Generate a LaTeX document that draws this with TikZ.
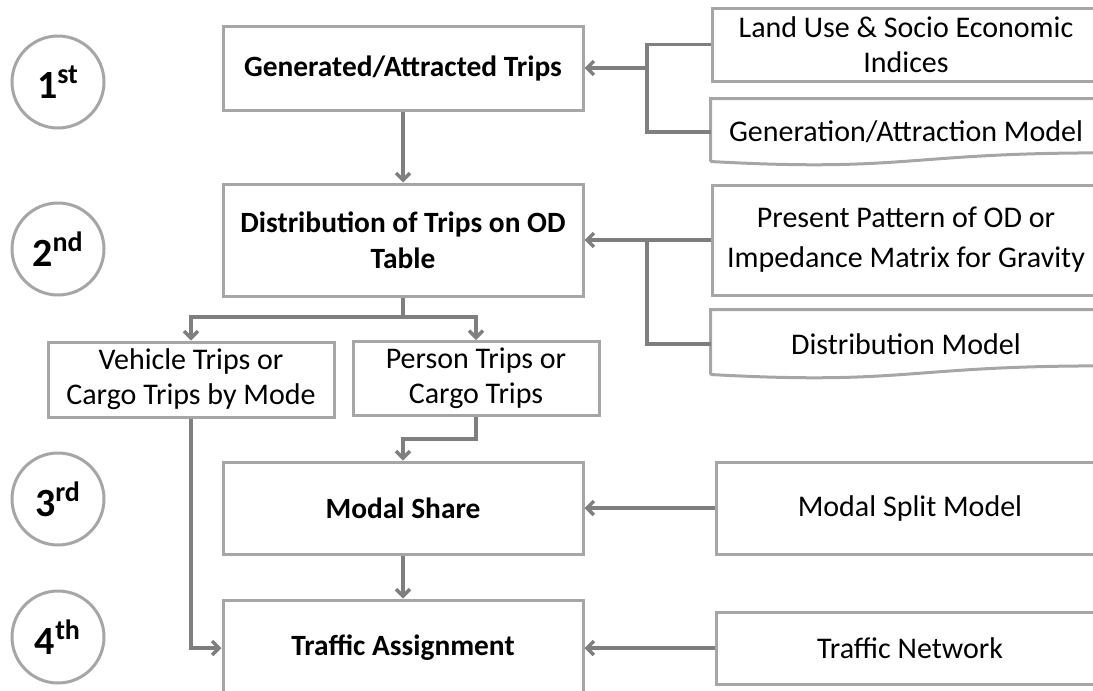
\documentclass[tikz,border=0pt]{standalone}
\usepackage{fontspec}
\setmainfont{Carlito}
\usetikzlibrary{arrows.meta}
\definecolor{boxgray}{HTML}{A6A6A6}
\definecolor{linegray}{HTML}{7F7F7F}

\newcommand\wavybox[1]{%
  \draw[draw=boxgray, line width=1.5pt] ([yshift=2pt]#1.south west) -- (#1.north west)
    -- (#1.north east) -- ([yshift=6.3pt]#1.south east)
    .. controls ([yshift=6.3pt]#1.south) and ([yshift=-3.4pt]#1.south) .. ([yshift=2pt]#1.south west);}

\begin{document}
\begin{tikzpicture}[x=0.5pt, y=-0.5pt,
  every node/.style = {shape=rectangle, align=center, inner sep=0pt, font=\fontsize{15}{17.5}\selectfont},
  stage/.style = {circle, draw=boxgray, line width=1.5pt, minimum size=46pt, font=\bfseries\fontsize{20}{22}\selectfont},
  mainbox/.style = {draw=boxgray, line width=1.5pt, minimum width=180pt, font=\bfseries\fontsize{14.7}{18}\selectfont},
  sidebox/.style = {draw=boxgray, line width=1.5pt, minimum width=194pt},
  plainbox/.style = {sidebox, draw=none},
  link/.style = {draw=linegray, line width=1.7pt},
  arrow/.style = {link, -{Straight Barb[length=3.5pt, width=7pt]}}]
  \useasboundingbox (0,0) rectangle (1093,691);
  \clip (0,0) rectangle (1093,691);

  \node[stage] (s1) at (58,82) {1\textsuperscript{st}};
  \node[stage] (s2) at (58,249) {2\textsuperscript{nd}};
  \node[stage] (s3) at (58,499) {3\textsuperscript{rd}};
  \node[stage] (s4) at (58,637) {4\textsuperscript{th}};

  \node[mainbox, minimum height=42pt] (gen) at (403,68) {Generated/Attracted Trips};
  \node[mainbox, minimum height=56pt] (dist) at (403,240) {Distribution of Trips on OD\\Table};
  \node[mainbox, minimum height=46pt] (modal) at (403,508) {Modal Share};
  \node[mainbox, minimum height=48pt] (traffic) at (403,648) {Traffic Assignment};

  \node[sidebox, minimum width=143pt, minimum height=37.5pt] (vehicle) at (191,379.5) {Vehicle Trips or\\Cargo Trips by Mode};
  \node[sidebox, minimum width=123pt, minimum height=37pt] (person) at (476,378.5) {Person Trips or\\Cargo Trips};

  \node[sidebox, minimum height=36.5pt] (landuse) at (906,44.5) {Land Use \& Socio Economic\\Indices};
  \node[plainbox, minimum height=32pt] (genmod) at (906,132) {Generation/Attraction Model};
  \node[sidebox, minimum height=55pt] (present) at (906,240) {Present Pattern of OD or\\[2.5pt]Impedance Matrix for Gravity};
  \node[plainbox, minimum height=33pt] (distmod) at (906,344) {Distribution Model};
  \node[sidebox, minimum height=46pt] (split) at (910,508) {Modal Split Model};
  \node[sidebox, minimum height=36pt] (network) at (910,648) {Traffic Network};
  \wavybox{genmod}
  \wavybox{distmod}

  \coordinate (j1) at (647,68);
  \coordinate (j2) at (647,240);
  \coordinate (j3) at (403,317);
  \coordinate (j4) at (403,439);

  \draw[link] (landuse.west) -| (j1) |- (genmod.west);
  \draw[arrow] (j1) -- (gen.east);
  \draw[link] (j2) |- (distmod.west);
  \draw[arrow] (present.west) -- (dist.east);
  \draw[arrow] (gen.south) -- (dist.north);
  \draw[link] (dist.south) -- (j3);
  \draw[arrow] (j3) -| (vehicle.north);
  \draw[arrow] (j3) -| (person.north);
  \draw[arrow] (person.south) |- (j4) -- (modal.north);
  \draw[arrow] (vehicle.south) |- (traffic.west);
  \draw[arrow] (modal.south) -- (traffic.north);
  \draw[arrow] (split.west) -- (modal.east);
  \draw[arrow] (network.west) -- (traffic.east);
\end{tikzpicture}
\end{document}
